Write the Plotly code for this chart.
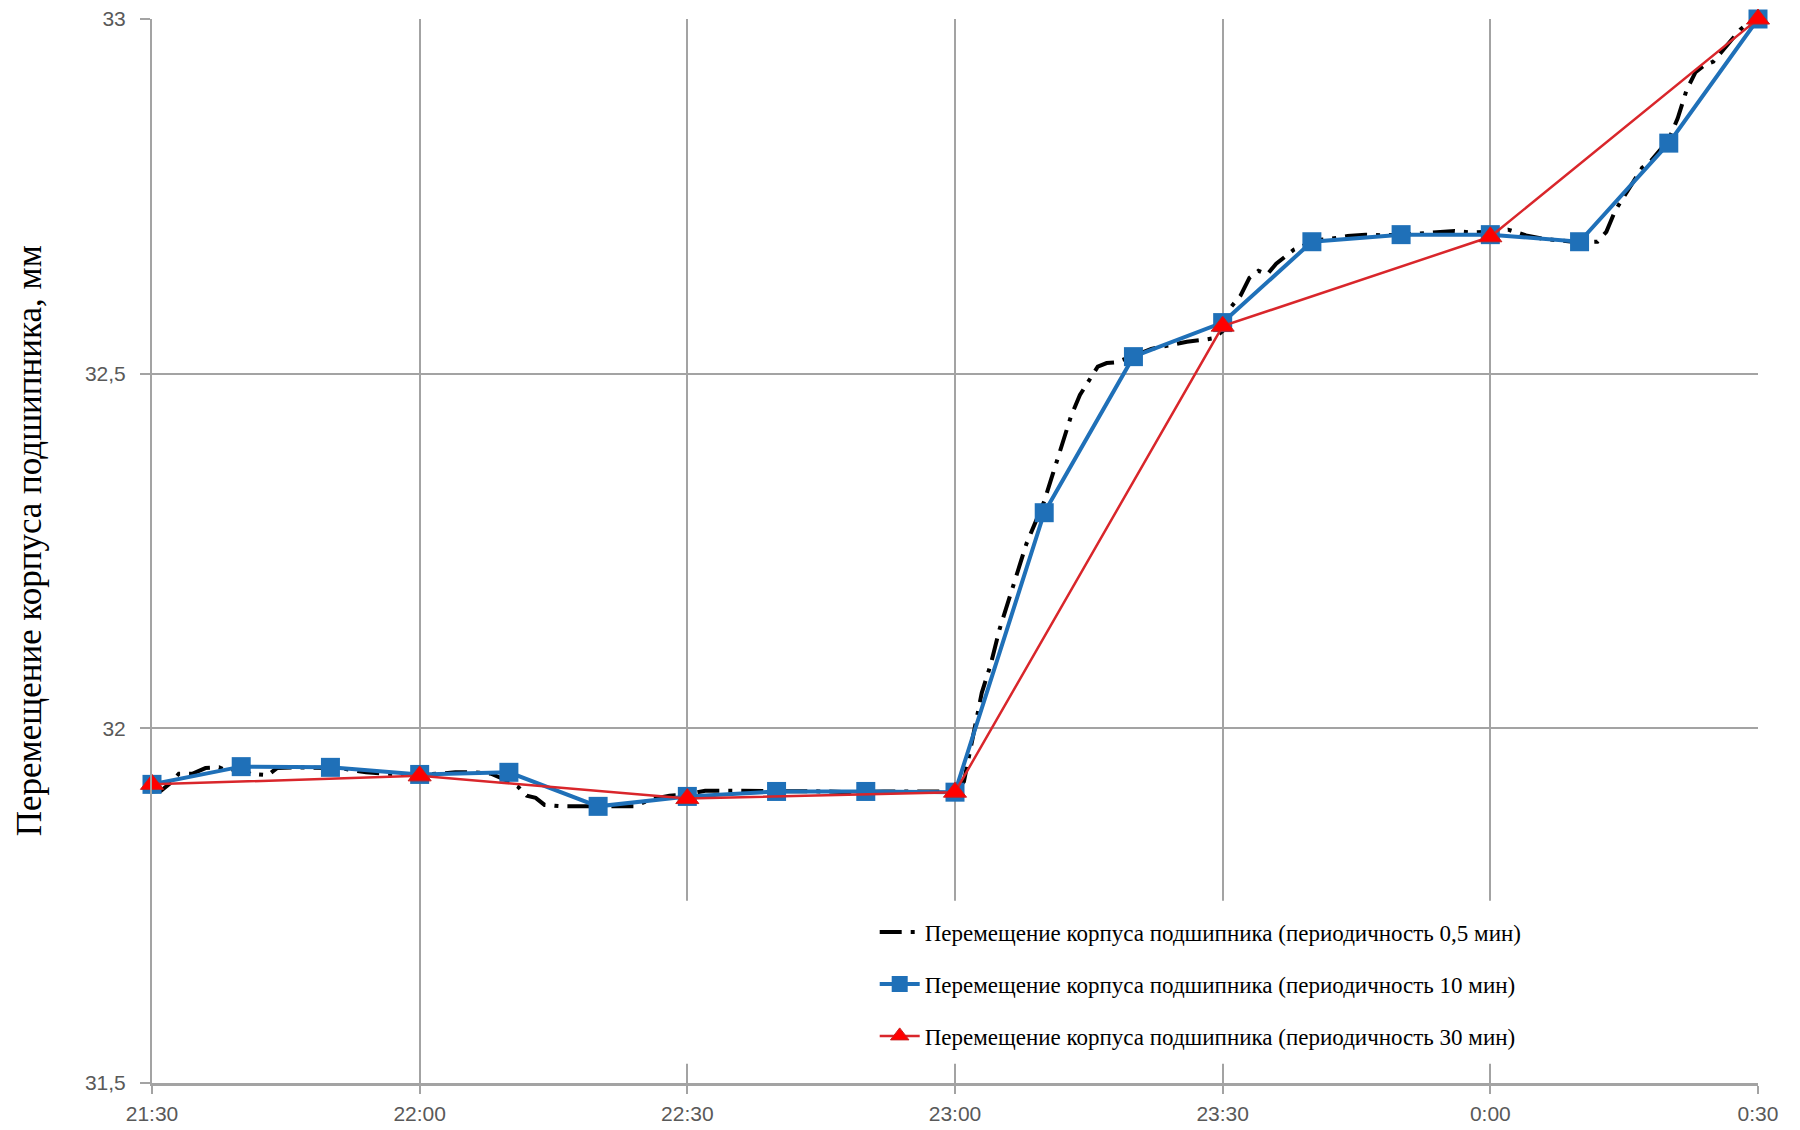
import plotly.graph_objects as go

# Time axis: minutes elapsed since 21:30
tick_minutes = [0, 30, 60, 90, 120, 150, 180]
tick_labels = ["21:30", "22:00", "22:30", "23:00", "23:30", "0:00", "0:30"]

# Bearing housing displacement, mm — sampled every 0.5 min (readings)
fine_t = [0, 1, 2, 3, 4.5, 6, 7.5, 8.5, 10, 11, 13, 14, 16, 18, 20, 21, 22, 24, 26, 28,
          30, 32, 34, 36, 38, 40, 41, 42, 43, 44, 46, 48, 50, 52, 54, 56, 58, 60, 61, 62,
          64, 66, 68, 70, 72, 74, 76, 78, 80, 82, 84, 86, 88, 90, 91, 92, 93, 94, 95, 96,
          97, 98, 99, 100, 101, 102, 103, 104, 105, 106, 107, 108, 110, 112, 114, 116, 118, 119, 120, 121,
          122, 123, 124, 125, 126, 127, 128, 129, 130, 132, 134, 136, 138, 140, 142, 144, 146, 148, 150, 152,
          154, 156, 158, 160, 162, 163, 164, 165, 166, 167, 168, 169, 170, 171, 172, 173, 174, 175, 176, 177,
          178, 179, 180]
fine_v = [31.911, 31.912, 31.922, 31.936, 31.936, 31.944, 31.945, 31.940, 31.946, 31.936, 31.934, 31.944, 31.945, 31.945, 31.945, 31.944, 31.942, 31.938, 31.936, 31.935,
          31.935, 31.936, 31.938, 31.938, 31.936, 31.925, 31.918, 31.905, 31.902, 31.892, 31.890, 31.890, 31.890, 31.889, 31.890, 31.900, 31.905, 31.907, 31.910, 31.912,
          31.912, 31.912, 31.911, 31.911, 31.911, 31.911, 31.911, 31.910, 31.911, 31.911, 31.911, 31.911, 31.911, 31.911, 31.925, 31.990, 32.050, 32.090, 32.140, 32.180,
          32.220, 32.260, 32.290, 32.320, 32.360, 32.400, 32.440, 32.470, 32.490, 32.510, 32.515, 32.516, 32.525, 32.535, 32.540, 32.545, 32.548, 32.550, 32.560, 32.595,
          32.610, 32.635, 32.645, 32.640, 32.655, 32.665, 32.675, 32.680, 32.688, 32.690, 32.694, 32.696, 32.695, 32.696, 32.698, 32.700, 32.701, 32.699, 32.700, 32.703,
          32.695, 32.690, 32.687, 32.685, 32.686, 32.700, 32.730, 32.750, 32.770, 32.790, 32.800, 32.815, 32.830, 32.860, 32.900, 32.925, 32.935, 32.940, 32.955, 32.970,
          32.985, 32.995, 33.000]

# Sampled every 10 min
t10 = [0, 10, 20, 30, 40, 50, 60, 70, 80, 90, 100, 110, 120, 130, 140, 150, 160, 170, 180]
v10 = [31.921, 31.946, 31.945, 31.935, 31.938, 31.890, 31.904, 31.911, 31.911, 31.910,
       32.304, 32.524, 32.572, 32.686, 32.696, 32.696, 32.686, 32.825, 33.000]

# Sampled every 30 min
t30 = [0, 30, 60, 90, 120, 150, 180]
v30 = [31.921, 31.933, 31.901, 31.910, 32.567, 32.693, 33.000]

names = [
    "Перемещение корпуса подшипника (периодичность 0,5 мин)",
    "Перемещение корпуса подшипника (периодичность 10 мин)",
    "Перемещение корпуса подшипника (периодичность 30 мин)",
]
y_title = "Перемещение корпуса подшипника, мм"

grid_color = "#a3a3a3"
tick_font = dict(family="Liberation Sans, Arial, sans-serif", size=21, color="#595959")
serif = "Liberation Serif, Times New Roman, serif"

fig = go.Figure()
fig.add_trace(go.Scatter(
    x=fine_t, y=fine_v, mode="lines", name=names[0], legendgroup="a",
    line=dict(color="#000000", width=4, dash="22px,9px,4px,9px"),
    cliponaxis=False,
))
fig.add_trace(go.Scatter(
    x=t10, y=v10, mode="lines+markers", name=names[1], legendgroup="b",
    line=dict(color="#1f70b8", width=4),
    marker=dict(symbol="square", size=19, color="#1f70b8"),
    cliponaxis=False,
))
fig.add_trace(go.Scatter(
    x=t30, y=v30, mode="lines+markers", name=names[2], legendgroup="c",
    line=dict(color="#d9262b", width=2.5),
    marker=dict(symbol="triangle-up", size=20, color="#ff0000",
                line=dict(color="#c81e1e", width=1)),
    cliponaxis=False,
))

# White panel behind the legend hides the gridlines there
fig.add_shape(type="rect", xref="x", yref="y", layer="between",
              x0=54.5, x1=159, y0=31.527, y1=31.757,
              fillcolor="white", line=dict(width=0))

# Vertical axis caption
fig.add_annotation(
    text=y_title, xref="paper", yref="paper", x=-0.0766, y=0.51,
    xanchor="center", yanchor="middle", textangle=-90, showarrow=False,
    font=dict(family=serif, size=35, color="#000000"),
)

fig.update_layout(
    width=1800, height=1130,
    margin=dict(l=152, r=42, t=19, b=47),
    paper_bgcolor="white", plot_bgcolor="white",
    separators=", ",
    showlegend=True,
    legend=dict(
        x=0.45, y=0.162, xanchor="left", yanchor="top",
        bgcolor="rgba(255,255,255,0)",
        font=dict(family=serif, size=23, color="#000000"),
        tracegroupgap=19, itemwidth=40,
    ),
    xaxis=dict(
        range=[0, 180], tickvals=tick_minutes, ticktext=tick_labels,
        showgrid=True, gridcolor=grid_color, gridwidth=1.5,
        showline=True, linecolor=grid_color, linewidth=3,
        ticks="outside", ticklen=8, tickwidth=1.5, tickcolor=grid_color,
        tickfont=tick_font, ticklabelstandoff=2, zeroline=False,
        automargin=False,
    ),
    yaxis=dict(
        range=[31.5, 33], dtick=0.5, tick0=31.5,
        showgrid=True, gridcolor=grid_color, gridwidth=1.5,
        showline=True, linecolor=grid_color, linewidth=2,
        ticks="outside", ticklen=10, tickwidth=1.5, tickcolor=grid_color,
        tickfont=tick_font, ticklabelstandoff=10, zeroline=False,
        automargin=False,
    ),
)

fig.write_html("out.html")
